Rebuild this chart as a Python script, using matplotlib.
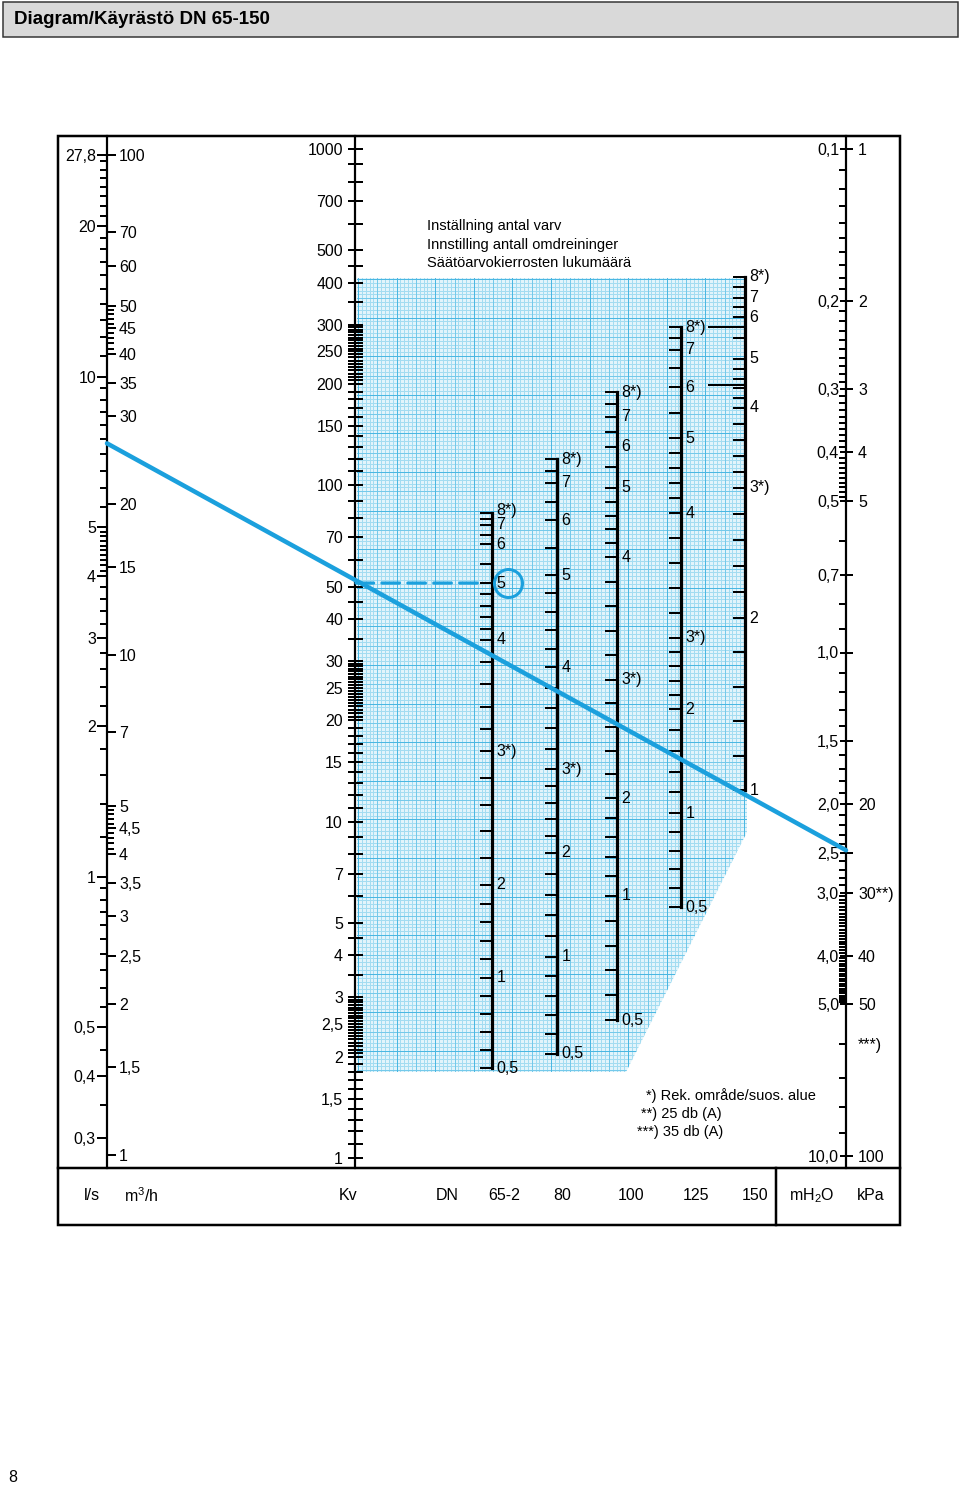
import numpy as np
import matplotlib
matplotlib.use("Agg")
import matplotlib.pyplot as plt
import matplotlib.transforms as mtransforms
from matplotlib.patches import Rectangle, Polygon, ConnectionPatch
from matplotlib.collections import LineCollection
from matplotlib.ticker import NullFormatter, NullLocator

plt.rcParams['font.family'] = ['Liberation Sans', 'DejaVu Sans']
plt.rcParams['mathtext.fontset'] = 'custom'
plt.rcParams['mathtext.rm'] = 'Liberation Sans'
plt.rcParams['mathtext.it'] = 'Liberation Sans:italic'

W, H = 960, 1489
PT = 0.72          # points per pixel (dpi 100)
BLUE = '#1ba0dd'
FS = 11.5

# ---- scale values ----
m3h_major = [100, 70, 60, 50, 45, 40, 35, 30, 20, 15, 10, 7, 5, 4.5, 4, 3.5, 3, 2.5, 2, 1.5, 1]
m3h_minor = [41, 42, 43, 44, 46, 47, 48, 49, 4.1, 4.2, 4.3, 4.4, 4.6, 4.7, 4.8, 4.9]
ls_major = [27.8, 20, 10, 5, 4, 3, 2, 1, 0.5, 0.4, 0.3]
kv_major = [1000, 700, 500, 400, 300, 250, 200, 150, 100, 70, 50, 40, 30, 25, 20, 15,
            10, 7, 5, 4, 3, 2.5, 2, 1.5, 1]
mh2o_major = [0.1, 0.2, 0.3, 0.4, 0.5, 0.7, 1.0, 1.5, 2.0, 2.5, 3.0, 4.0, 5.0, 10.0]
kpa_major = [1, 2, 3, 4, 5, 20, 30, 40, 50, 60, 100]
kpa_text = ['1', '2', '3', '4', '5', '20', '30**)', '40', '50', '***)', '100']

# setting scales: turns -> Kv
settings = [8, 7, 6, 5, 4, 3, 2, 1, 0.5]
setting_text = ['8*)', '7', '6', '5', '4', '3*)', '2', '1', '0,5']
setting_minor = [0.6, 0.7, 0.8, 0.9, 1.2, 1.4, 1.6, 1.8, 2.2, 2.4, 2.6, 2.8,
                 3.2, 3.4, 3.6, 3.8, 4.2, 4.4, 4.6, 4.8, 5.5, 6.5, 7.5]
kv_dn65 = [82.7, 76.2, 66.9, 51.2, 34.7, 16.2, 6.48, 3.43, 1.85]
kv_dn80 = [119.7, 101.6, 78.8, 54.1, 28.8, 14.3, 8.07, 3.96, 2.04]
kv_dn100 = [189.4, 159.7, 130.0, 98.2, 61.2, 26.4, 11.75, 6.01, 2.57]
kv_dn125 = [295.6, 252.6, 196.0, 138.2, 82.7, 35.2, 21.6, 10.6, 5.57]
kv_dn150 = [416.3, 360.6, 316.5, 237.5, 169.8, 98.2, 40.3, 12.4]
kv_dn150_long = [295.6, 198.8]
dn_names = ['65-2', '80', '100', '125', '150']

# example reading
flow_m3h = 26.5
kv_read = 51.2
dp_mh2o = 2.47


def comma(v, fmt='%g'):
    return (fmt % v).replace('.', ',')


def minor_list(majors, parts):
    out = []
    for lo, hi, step in parts:
        for v in np.arange(lo, hi + step / 2, step):
            v = round(v, 3)
            if all(abs(v - m) > 1e-6 for m in majors):
                out.append(v)
    return out


ls_minor = minor_list(ls_major, [(0.3, 1, 0.05), (1, 4, 0.2), (4, 5, 0.1),
                                 (5, 10, 0.5), (10, 27, 1)])
kv_minor = []
for d in [1, 10, 100]:
    kv_minor += [round(m * d, 3) for m in minor_list(
        [1, 1.5, 2, 2.5, 3], [(1, 2, 0.1), (2, 3, 0.05)]) + [3.5, 4.5, 6, 8, 9]]
kv_minor = [v for v in kv_minor if v not in kv_major]
mh2o_minor = minor_list(mh2o_major, [(0.1, 0.5, 0.01), (0.5, 1, 0.1), (1, 3, 0.1),
                                     (3, 5, 0.05), (5, 10, 1)])

fig = plt.figure(figsize=(W / 100, H / 100), dpi=100)
ax = fig.add_axes([0, 0, 1, 1])
ax.set_xlim(0, W)
ax.set_ylim(H, 0)
ax.axis('off')

# header
ax.add_patch(Rectangle((3, 2), 955, 35, fc='#d9d9d9', ec='#333333', lw=1.5 * PT))
ax.text(14, 20, 'Diagram/Käyrästö DN 65-150', fontsize=13.5, fontweight='bold', va='center')
ax.text(8, 1478, '8', fontsize=FS, va='center')

# graph paper (snapped to whole pixels)
region = Polygon([(357, 278), (747, 278), (747, 832), (626, 1072), (357, 1072)],
                 closed=True, fc='#e2f4fb', ec='none')
ax.add_patch(region)
step = 3.86
gx = np.round(np.arange(357, 748, step)) + 0.5
gy = np.round(np.arange(278, 1073, step)) + 0.5
for level in (0, 1, 2):
    segs = []
    for i, x in enumerate(gx):
        lv = 2 if i % 10 == 0 else (1 if i % 5 == 0 else 0)
        if lv == level:
            segs.append([(x, 278), (x, 1072)])
    for i, y in enumerate(gy):
        lv = 2 if i % 10 == 0 else (1 if i % 5 == 0 else 0)
        if lv == level:
            segs.append([(357, y), (747, y)])
    lc = LineCollection(segs, colors=['#a3dcf1', '#74c9ea', '#4ab7e2'][level],
                        linewidths=1.0 * PT, antialiaseds=False)
    lc.set_clip_path(region)
    ax.add_collection(lc)

# frame
ax.add_patch(Rectangle((58, 136), 842, 1089, fc='none', ec='black', lw=2.5 * PT))
ax.plot([58, 900], [1168, 1168], color='black', lw=2.5 * PT)
ax.plot([776, 776], [1168, 1225], color='black', lw=2.5 * PT)
for x in (107, 355, 846):
    ax.plot([x, x], [136, 1168], color='black', lw=2.2 * PT)

# texts
for i, s in enumerate(['Inställning antal varv', 'Innstilling antall omdreininger',
                       'Säätöarvokierrosten lukumäärä']):
    ax.text(427, 226 + 18.5 * i, s, fontsize=10.5, va='center')
for x, y, s in [(646, 1096, '*) Rek. område/suos. alue'), (641, 1114, '**) 25 db (A)'),
                (637, 1132, '***) 35 db (A)')]:
    ax.text(x, y, s, fontsize=10.5, va='center')
for x, s in [(92, 'l/s'), (141, 'm$^3$/h'), (348, 'Kv'), (447, 'DN'), (504, '65-2'),
             (562, '80'), (631, '100'), (696, '125'), (755, '150'),
             (812, 'mH$_2$O'), (871, 'kPa')]:
    ax.text(x, 1196, s, fontsize=FS, ha='center', va='center')


def scale_ax(x, y_top, y_bot, v_top, v_bot):
    a = fig.add_axes([x / W, 1 - y_bot / H, 1 / W, (y_bot - y_top) / H])
    a.set_yscale('log')
    a.set_ylim(v_bot, v_top)
    a.set_xlim(0, 1)
    a.patch.set_visible(False)
    for s in a.spines.values():
        s.set_visible(False)
    a.xaxis.set_visible(False)
    a.yaxis.set_minor_locator(NullLocator())
    a.yaxis.set_minor_formatter(NullFormatter())
    return a


# flow scales
q_ax = scale_ax(107, 155, 1155, 100, 1)
q_ax.set_yticks(m3h_major, labels=[comma(v) for v in m3h_major])
q_ax.set_yticks(m3h_minor, minor=True)
q_ax.tick_params(axis='y', which='both', left=False, right=True, labelleft=False,
                 labelright=True, direction='out', length=8 * PT, width=2 * PT,
                 pad=3 * PT, labelsize=FS)
q_ax.tick_params(axis='y', which='minor', length=6 * PT)

ls_ax = scale_ax(107, 155, 1155, 100 / 3.6, 1 / 3.6)
ls_ax.set_yticks(ls_major, labels=[comma(v) for v in ls_major])
ls_ax.set_yticks(ls_minor, minor=True)
ls_ax.tick_params(axis='y', which='both', direction='out', width=2 * PT,
                  length=10 * PT, pad=1 * PT, labelsize=FS)
ls_ax.tick_params(axis='y', which='minor', length=7 * PT)

# Kv scale
kv_ax = scale_ax(355, 149, 149 + 3 * 336.3, 1000, 1)
kv_ax.set_yticks(kv_major, labels=[comma(v) for v in kv_major])
kv_ax.set_yticks(kv_minor, minor=True)
kv_ax.tick_params(axis='y', which='both', direction='inout', length=15 * PT,
                  width=2 * PT, pad=4.5 * PT, labelsize=FS)

# setting scales
dn_x = [492, 557, 617, 681, 745]
dn_axes = []
for k, (x, kvs) in enumerate(zip(dn_x, [kv_dn65, kv_dn80, kv_dn100, kv_dn125, kv_dn150])):
    a = scale_ax(x, 149, 149 + 3 * 336.3, 1000, 1)
    n = len(kvs)
    s_asc = np.array(settings[:n])[::-1]
    lk_asc = np.log10(np.array(kvs))[::-1]
    mins = [s for s in setting_minor if s_asc[0] < s < s_asc[-1]]
    a.set_yticks(kvs)
    a.set_yticks(10 ** np.interp(mins, s_asc, lk_asc), minor=True)
    a.tick_params(axis='y', which='both', left=True, right=False, labelleft=False,
                  labelright=False, direction='out', length=12 * PT, width=2 * PT)
    a.spines['left'].set_visible(True)
    a.spines['left'].set_linewidth(3.2 * PT)
    a.spines['left'].set_bounds(min(kvs), max(kvs))
    for j, (kv, s) in enumerate(zip(kvs, setting_text)):
        up = 3 if (k == 0 and j == 0) else 0
        tr = mtransforms.offset_copy(a.transData, fig=fig, y=up, units='dots')
        a.text(4.5, kv, s, transform=tr, fontsize=FS, va='center', ha='left',
               clip_on=False)
    dn_axes.append(a)
for kv in kv_dn150_long:
    dn_axes[4].plot([-36, 0], [kv, kv], color='black', lw=2 * PT, clip_on=False)

# pressure scales
h_ax = scale_ax(846, 149, 149 + 2 * 503.5, 0.1, 10)
h_ax.set_yticks(mh2o_major, labels=[comma(v, '%.1f') for v in mh2o_major])
h_ax.set_yticks(mh2o_minor, minor=True)
h_ax.tick_params(axis='y', which='major', direction='inout', length=13 * PT,
                 width=2 * PT, pad=0.5 * PT, labelsize=FS)
h_ax.tick_params(axis='y', which='minor', direction='out', length=7 * PT, width=2 * PT)

kpa_ax = scale_ax(846, 149, 149 + 2 * 503.5, 1, 100)
kpa_ax.set_yticks(kpa_major, labels=kpa_text)
kpa_ax.tick_params(axis='y', left=False, right=False, labelleft=False, labelright=True,
                   length=0, pad=11 * PT, labelsize=FS)

# reading: flow -> pressure drop, Kv -> setting
fig.add_artist(ConnectionPatch(xyA=(0, flow_m3h), coordsA=q_ax.transData,
                               xyB=(0, dp_mh2o), coordsB=h_ax.transData,
                               color=BLUE, lw=4.5 * PT, zorder=5))
fig.add_artist(ConnectionPatch(xyA=(1, kv_read), coordsA=kv_ax.transData,
                               xyB=(-12, kv_read), coordsB=dn_axes[0].transData,
                               color=BLUE, lw=3.2 * PT, linestyle=(0, (5.5, 2.6)),
                               zorder=5))
dn_axes[0].plot([16], [kv_read], marker='o', ms=28 * PT, mfc='none', mec=BLUE,
                mew=3 * PT, clip_on=False, zorder=6)

fig.savefig('out.png', dpi=100)
